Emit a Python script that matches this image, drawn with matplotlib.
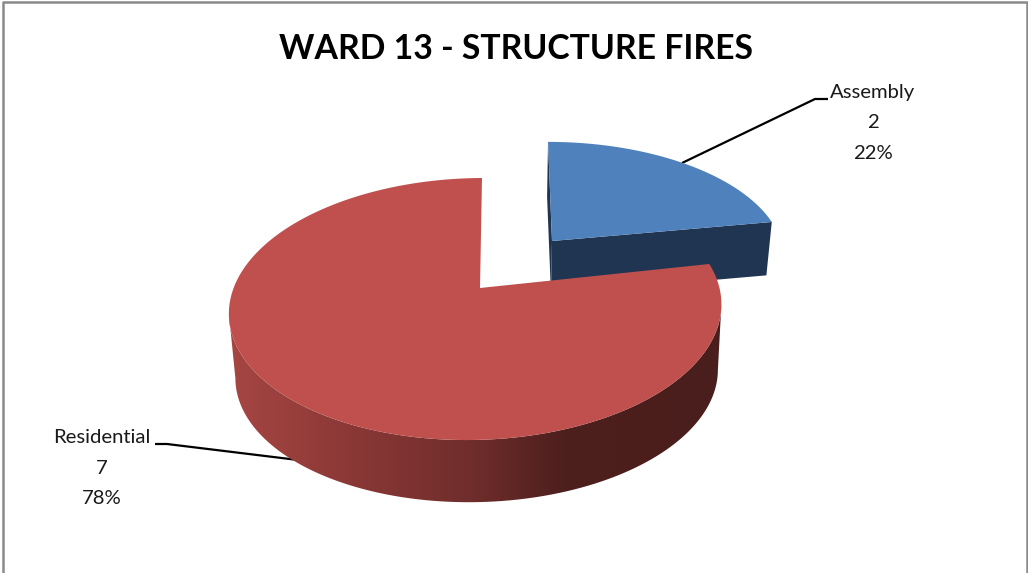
import numpy as np
import matplotlib
matplotlib.use("Agg")
import matplotlib.pyplot as plt
from matplotlib.patches import Polygon, PathPatch
from matplotlib.path import Path
from matplotlib.colors import LinearSegmentedColormap

categories = ["Assembly", "Residential"]
values = [2, 7]
title = "WARD 13 - STRUCTURE FIRES"
FONT = ["Lato", "DejaVu Sans"]

BLUE, BLUE_SIDE = "#4F81BD", "#1F3552"
RED = "#C0504D"
RED_SIDE = [(0.0, "#A64643"), (0.25, "#8A3836"), (0.5, "#6E2D2B"), (0.68, "#4D1F1D"), (1.0, "#4A1E1C")]

fig = plt.figure(figsize=(10.28, 5.73), dpi=100, facecolor="white")
ax = fig.add_axes([0, 0, 1, 1])
ax.set_xlim(0, 1028)
ax.set_ylim(573, 0)
ax.axis("off")

shares = np.array(values) / sum(values)
spans = shares * 360.0


def project(theta, cx, cy, R, Q, p, r, b, t, f=1.0):
    th = np.radians(theta)
    u, v = np.sin(th), np.cos(th)
    w = 1 + p * v + r * u
    return np.column_stack((cx + f * (R * u + b * v) / w,
                            cy - f * (Q * v + t * u) / w))


red_kw = dict(cx=480, cy=288, R=243, Q=127.6, p=0.16, r=0.018, b=2.3, t=3)
blue_kw = dict(cx=552, cy=241, R=229, Q=112, p=0.13, r=0.0, b=-4.5, t=0)

# blue slice, pulled out
th = np.linspace(0, spans[0], 80)
top = project(th, **blue_kw)
low_kw = dict(blue_kw, cy=294, f=0.98, cx=551)
low = project(th, **low_kw)
apex_t = [blue_kw["cx"], blue_kw["cy"]]
apex_l = [low_kw["cx"], low_kw["cy"]]
ax.add_patch(Polygon([top[0], apex_t, apex_l, low[0]], fc=BLUE_SIDE, ec="none", zorder=2))
ax.add_patch(Polygon([top[-1], apex_t, apex_l, low[-1]], fc=BLUE_SIDE, ec="none", zorder=2))
ax.add_patch(Polygon(np.vstack((top, [apex_t])), fc=BLUE, ec="none", zorder=3))

# red slice: wall with horizontal gradient, then top face
th_all = np.linspace(spans[0], 360, 1200)
rim = project(th_all, **red_kw)
th = np.linspace(th_all[np.argmax(rim[:, 0])], th_all[np.argmin(rim[:, 0])], 240)
rt = project(th, **red_kw)
rl = project(th, **dict(red_kw, cy=353.3, f=0.98, cx=477, r=0.0))
wall = np.vstack((rt, rl[::-1]))
clip = PathPatch(Path(np.vstack((wall, wall[:1])), closed=True), fc="none", ec="none", transform=ax.transData)
ax.add_patch(clip)
cmap = LinearSegmentedColormap.from_list("side", RED_SIDE)
x0, x1 = wall[:, 0].min(), wall[:, 0].max()
im = ax.imshow(np.linspace(0, 1, 256)[None, :], cmap=cmap, extent=(x0, x1, 520, 290),
               aspect="auto", zorder=4, interpolation="bilinear")
im.set_clip_path(clip)
ax.set_xlim(0, 1028)
ax.set_ylim(573, 0)

th = np.linspace(spans[0], 360, 300)
ax.add_patch(Polygon(np.vstack((project(th, **red_kw), [[red_kw["cx"], red_kw["cy"]]])),
                     fc=RED, ec="none", zorder=5))

# leader lines
ax.plot([682, 815, 828], [163, 99, 99], color="black", lw=1.6, zorder=1, solid_capstyle="butt")
ax.plot([298, 167, 155], [460, 444, 444], color="black", lw=1.6, zorder=1, solid_capstyle="butt")

# data labels
anchor = [(873, 123), (102, 468)]
for name, v, s, (x, y) in zip(categories, values, shares, anchor):
    ax.text(x, y, f"{name}\n{v}\n{s * 100:.0f}%", ha="center", va="center", fontsize=14.6,
            family=FONT, color="#1a1a1a", linespacing=1.93)

ax.text(516, 49, title, ha="center", va="center", fontsize=24.3, fontweight="bold",
        family=FONT, color="black")

# chart frame (open at the bottom)
ax.plot([3, 3, 1027, 1027], [573, 2, 2, 573], color="#8a8a8a", lw=1.8, zorder=6)

fig.savefig("out.png", dpi=100)
